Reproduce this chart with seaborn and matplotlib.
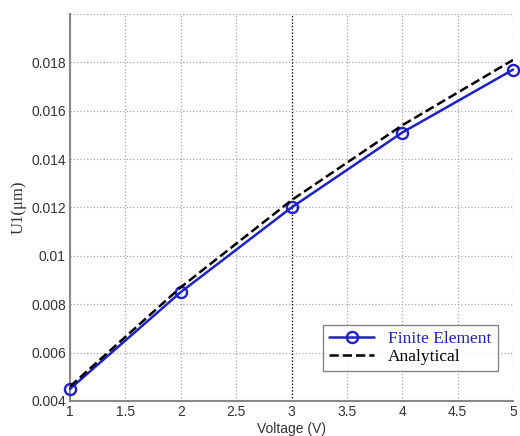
import pandas as pd
import matplotlib.pyplot as plt
import seaborn as sns

# values
voltage = [1, 2, 3, 4, 5]
fe_disp = [0.0045, 0.0085, 0.0120, 0.0151, 0.0177]
analytical_disp = [0.0046, 0.0087, 0.0123, 0.0154, 0.0181]

x_ticks = [1, 1.5, 2, 2.5, 3, 3.5, 4, 4.5, 5]
x_tick_labels = ['1', '1.5', '2', '2.5', '3', '3.5', '4', '4.5', '5']
y_ticks = [0.004, 0.006, 0.008, 0.01, 0.012, 0.014, 0.016, 0.018, 0.02]
y_tick_labels = ['0.004', '0.006', '0.008', '0.01', '0.012', '0.014', '0.016', '0.018', '']


def main():
    sns.set_style('whitegrid')
    plt.rcParams['font.family'] = ['Liberation Sans', 'DejaVu Sans']

    df = pd.DataFrame({'Voltage': voltage, 'FE': fe_disp, 'Analytical': analytical_disp})

    fig = plt.figure(figsize=(5.2, 4.36), dpi=100)
    # axes run almost to the right edge, as in the cropped original
    ax = fig.add_axes([0.1346, 0.0803, 0.852, 0.8876])

    sns.lineplot(data=df, x='Voltage', y='FE', ax=ax, color='#2020c8', linewidth=1.8,
                 marker='o', markersize=8, markerfacecolor='none', markeredgecolor='#2020c8',
                 markeredgewidth=1.7, label='Finite Element', zorder=3, clip_on=False)
    sns.lineplot(data=df, x='Voltage', y='Analytical', ax=ax, color='black', linewidth=1.8,
                 linestyle='--', dashes=(3, 1.5), label='Analytical', zorder=4)

    ax.set_xlim(1, 5)
    ax.set_ylim(0.004, 0.02)
    ax.set_xticks(x_ticks, x_tick_labels)
    ax.set_yticks(y_ticks, y_tick_labels)
    ax.tick_params(labelsize=10, colors='#333333', length=0, pad=3)

    ax.grid(True, linestyle=':', color='#aaaaaa', linewidth=0.9)
    ax.axvline(3, linestyle=':', color='black', linewidth=0.9, zorder=1)

    for side in ['top', 'right']:
        ax.spines[side].set_visible(False)
    for side in ['left', 'bottom']:
        ax.spines[side].set_color('#888888')
        ax.spines[side].set_linewidth(1.5)

    ax.set_xlabel('Voltage (V)', fontsize=10, color='#333333', labelpad=2)
    ax.set_ylabel('U1(\u03bcm)', fontsize=12, family=['Liberation Serif', 'DejaVu Serif'],
                  color='#333333', labelpad=3)

    leg = ax.legend(loc='lower right', bbox_to_anchor=(0.985, 0.055), frameon=True,
                    prop={'family': 'Liberation Serif', 'size': 12.5},
                    handlelength=2.6, borderpad=0.35, labelspacing=0.1, fancybox=False)
    leg.get_frame().set_edgecolor('#666666')
    leg.get_frame().set_linewidth(1.0)
    texts = leg.get_texts()
    texts[0].set_color('#2020c8')
    texts[1].set_color('black')

    plt.savefig('out.png', dpi=100)
    plt.close()


if __name__ == '__main__':
    main()
